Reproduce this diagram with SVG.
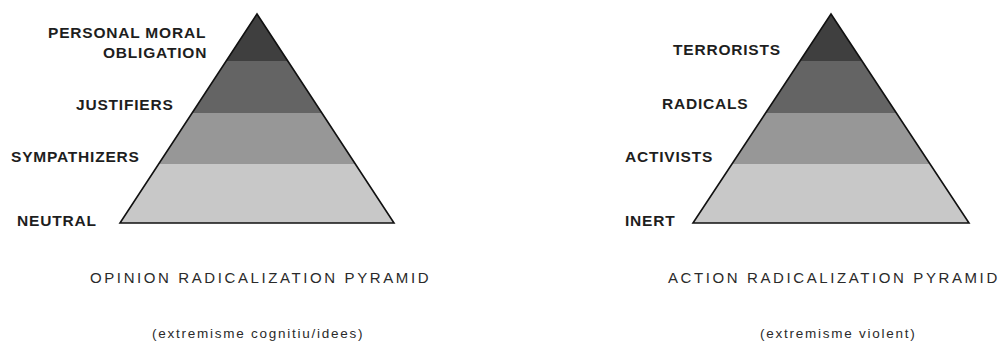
<svg xmlns="http://www.w3.org/2000/svg" width="1002" height="342" viewBox="0 0 1002 342">
<style>
.lbl{font-family:"Liberation Sans",Arial,sans-serif;font-weight:bold;font-size:15.5px;letter-spacing:0.8px;fill:#1e1e1e}
.ttl{font-family:"Liberation Sans",Arial,sans-serif;font-size:15px;letter-spacing:2.6px;fill:#2a2a2a}
.sub{font-family:"Liberation Sans",Arial,sans-serif;font-size:13.5px;letter-spacing:1.75px;fill:#2a2a2a}
.b1{fill:#3f3f3f}.b2{fill:#646464}.b3{fill:#979797}.b4{fill:#c8c8c8}
.out{fill:none;stroke:#111;stroke-width:1.6;stroke-linejoin:miter}
</style>
<rect width="1002" height="342" fill="#fff"/>
<g id="opinion-pyramid">
<polygon class="b1" points="257,14 226.2,61 287.8,61"/>
<polygon class="b2" points="226.2,61 287.8,61 321.9,113 192.1,113"/>
<polygon class="b3" points="192.1,113 321.9,113 355.3,164 158.7,164"/>
<polygon class="b4" points="158.7,164 355.3,164 394,223 120,223"/>
<polygon class="out" points="257,14 394,223 120,223"/>
</g>
<g id="opinion-labels">
<text class="lbl" x="48" y="38">PERSONAL MORAL</text>
<text class="lbl" x="103" y="57.5">OBLIGATION</text>
<text class="lbl" x="76" y="109.5">JUSTIFIERS</text>
<text class="lbl" x="11" y="161.5">SYMPATHIZERS</text>
<text class="lbl" x="17" y="226">NEUTRAL</text>
<text class="ttl" x="90" y="283">OPINION RADICALIZATION PYRAMID</text>
<text class="sub" x="152" y="338">(extremisme cognitiu/idees)</text>
</g>
<g id="action-pyramid">
<polygon class="b1" points="831,14 800,61 862,61"/>
<polygon class="b2" points="800,61 862,61 896.4,113 765.6,113"/>
<polygon class="b3" points="765.6,113 896.4,113 930,164 732,164"/>
<polygon class="b4" points="732,164 930,164 969,223 693,223"/>
<polygon class="out" points="831,14 969,223 693,223"/>
</g>
<g id="action-labels">
<text class="lbl" x="673" y="55">TERRORISTS</text>
<text class="lbl" x="662" y="109.3">RADICALS</text>
<text class="lbl" x="625" y="162.3">ACTIVISTS</text>
<text class="lbl" x="625" y="226">INERT</text>
<text class="ttl" x="668" y="283">ACTION RADICALIZATION PYRAMID</text>
<text class="sub" x="760" y="338">(extremisme violent)</text>
</g>
<g id="connectors"></g>
</svg>
